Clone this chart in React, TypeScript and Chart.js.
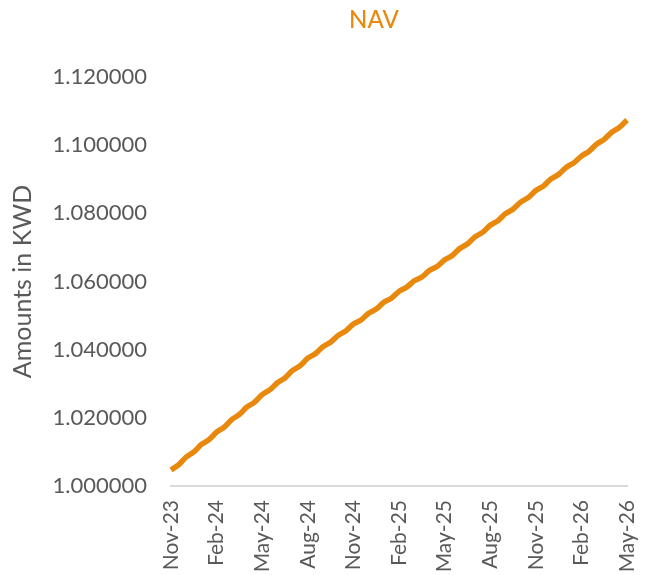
import React, { useEffect, useRef } from "react";
import { Chart, registerables } from "chart.js";

Chart.register(...registerables);

// Tick labels on the x axis (every 3 months, Nov-23 .. May-26)
const xTickLabels = [
  "Nov-23", "Feb-24", "May-24", "Aug-24", "Nov-24", "Feb-25",
  "May-25", "Aug-25", "Nov-25", "Feb-26", "May-26",
];

// NAV at the start of each month, Nov-23 (index 0) .. May-26 (index 30)
const navMonthly = [
  1.0047, 1.0085, 1.0122, 1.0158, 1.0195, 1.0232, 1.0268, 1.0303, 1.0339, 1.0375,
  1.0409, 1.0442, 1.0475, 1.0507, 1.0539, 1.0571, 1.0602, 1.0632, 1.0663, 1.0697,
  1.0731, 1.0765, 1.0799, 1.0833, 1.0867, 1.0901, 1.0935, 1.0968, 1.1003, 1.1038,
  1.1074,
];

// NAV at mid-month (between consecutive monthly points)
const navMidMonth = [
  1.0062, 1.0100, 1.0136, 1.0173, 1.0210, 1.0246, 1.0282, 1.0317, 1.0353, 1.0388,
  1.0422, 1.0455, 1.0487, 1.0519, 1.0551, 1.0583, 1.0613, 1.0644, 1.0676, 1.0710,
  1.0744, 1.0778, 1.0812, 1.0846, 1.0880, 1.0914, 1.0948, 1.0982, 1.1017, 1.1052,
];

const yMin = 1.0;
const yMax = 1.12;
const yStep = 0.02;

const ORANGE = "#E8890E";
const GREY = "#595959";
const FONT = "Lato, 'Open Sans', sans-serif";

export default function App() {
  const canvasRef = useRef<HTMLCanvasElement | null>(null);

  useEffect(() => {
    if (!canvasRef.current) return;
    const points: { x: number; y: number }[] = [];
    navMonthly.forEach((v, i) => {
      points.push({ x: i, y: v });
      if (i < navMidMonth.length) points.push({ x: i + 0.5, y: navMidMonth[i] });
    });

    const titlePlugin = {
      id: "navTitle",
      afterDraw(chart: any) {
        const ctx = chart.ctx;
        ctx.save();
        ctx.font = `500 24px ${FONT}`;
        ctx.fillStyle = ORANGE;
        ctx.textAlign = "center";
        ctx.textBaseline = "middle";
        ctx.fillText("NAV", 374, 20);
        ctx.restore();
      },
    };

    const chart = new Chart(canvasRef.current, {
      type: "line",
      data: {
        datasets: [
          {
            label: "NAV",
            data: points,
            borderColor: ORANGE,
            backgroundColor: ORANGE,
            borderWidth: 5.5,
            pointRadius: 0,
            tension: 0.3,
            clip: false as any,
          },
        ],
      },
      options: {
        animation: false,
        responsive: false,
        devicePixelRatio: 1,
        layout: { padding: { top: 77, right: 23, left: 0, bottom: 0 } },
        plugins: {
          legend: { display: false },
          title: { display: false },
          tooltip: { enabled: false },
        },
        scales: {
          x: {
            type: "linear",
            min: 0,
            max: 30,
            grid: { display: false, drawTicks: false },
            border: { display: true, color: "#D9D9D9", width: 2 },
            ticks: {
              stepSize: 3,
              autoSkip: false,
              minRotation: 90,
              maxRotation: 90,
              padding: 14,
              color: GREY,
              font: { family: FONT, size: 21 },
              callback: (v: any) => {
                const idx = Math.round(Number(v) / 3);
                return xTickLabels[idx] ?? "";
              },
            },
            afterFit: (scale: any) => {
              scale.height = 89;
              scale.paddingRight = 0;
              scale.paddingLeft = 0;
            },
          },
          y: {
            min: yMin,
            max: yMax,
            grid: { display: false, drawTicks: false },
            border: { display: false },
            ticks: {
              stepSize: yStep,
              padding: 24,
              color: GREY,
              font: { family: FONT, size: 22 },
              callback: (v: any) => Number(v).toFixed(6),
            },
            title: {
              display: true,
              text: "Amounts in KWD",
              color: GREY,
              font: { family: FONT, size: 25 },
              padding: { top: 8, bottom: 0 },
            },
            afterFit: (scale: any) => {
              scale.width = 171;
            },
          },
        },
      },
      plugins: [titlePlugin],
    });

    return () => chart.destroy();
  }, []);

  return (
    <div style={{ position: "absolute", left: 0, top: 0, width: 650, height: 575, background: "#fff" }}>
      <canvas ref={canvasRef} width={650} height={575} style={{ display: "block" }} />
    </div>
  );
}
